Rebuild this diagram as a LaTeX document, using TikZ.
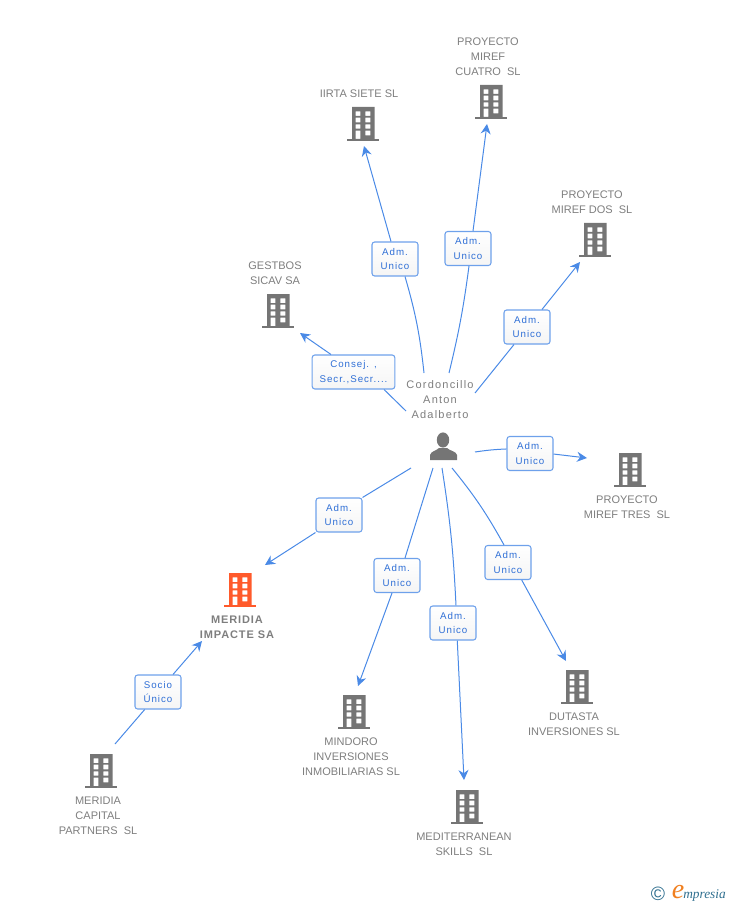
\documentclass[tikz,border=0pt]{standalone}
\usepackage{fontspec}
\setmainfont{Liberation Sans}
\newfontfamily\boxfont[LetterSpace=10]{Liberation Sans}
\newfontfamily\namefont[LetterSpace=11]{Liberation Sans}
\newfontfamily\heavyfont[LetterSpace=8]{Liberation Sans}
\newfontfamily\logofont{Liberation Serif}
\usetikzlibrary{arrows.meta}
\definecolor{linkblue}{HTML}{4A8AE6}
\definecolor{textblue}{HTML}{2F6FD6}
\definecolor{iconaccent}{HTML}{FF5A2B}
\definecolor{icongray}{HTML}{757575}
\definecolor{labelgray}{HTML}{7E7E7E}
\definecolor{logoteal}{HTML}{2F6F8F}
\definecolor{logoorange}{HTML}{F08020}
\tikzset{
  link/.style={linkblue, line width=.75pt},
  tolink/.style={link, -{Stealth[length=7.5pt,width=7.5pt]}},
  role/.style={draw=linkblue!80, line width=.8pt, rounded corners=2pt, top color=white, bottom color=gray!8,
    minimum width=34.5pt, minimum height=25.5pt, inner sep=0pt, align=center, text=textblue,
    font=\boxfont\fontsize{7.3}{11.2}\selectfont, execute at begin node={\rule{0pt}{6.9pt}}},
  entity/.style={align=center, text=labelgray, inner sep=0pt, font=\fontsize{8.25}{11.25}\selectfont},
  bldgbox/.style={minimum width=24pt, minimum height=25.5pt, inner sep=0pt},
}
% one building, centred on its named node
\newcommand{\bldg}[4]{
  \node[bldgbox] (#1) at (#2,#3) {};
  \begin{scope}[shift={(#2,#3)}]
    \fill[#4, even odd rule] (-11,-17) rectangle (11.5,15)
      (-7.3,-12.7) rectangle (-2.7,-8) (2.3,-12.7) rectangle (7.3,-8)
      (-7.3,-6.3) rectangle (-2.7,-1.7) (2.3,-6.3) rectangle (7.3,-1.7)
      (-7.3,.3) rectangle (-2.7,4.7) (2.3,.3) rectangle (7.3,4.7)
      (-7.3,6.7) rectangle (-2.7,15) (2.3,6.7) rectangle (7.3,11.3);
    \fill[#4] (-16,15) rectangle (16,17);
  \end{scope}
}
\begin{document}
\begin{tikzpicture}[x=.75pt,y=-.75pt]
  \useasboundingbox (0,0) rectangle (728,905);

  \bldg{iirta}{363}{124}{icongray}
  \bldg{cuatro}{491}{102}{icongray}
  \bldg{dos}{595}{240}{icongray}
  \bldg{gestbos}{278}{311}{icongray}
  \bldg{tres}{630}{470}{icongray}
  \bldg{impacte}{240}{590}{iconaccent}
  \bldg{mindoro}{354}{712}{icongray}
  \bldg{skills}{467}{807}{icongray}
  \bldg{dutasta}{577}{687}{icongray}
  \bldg{capital}{101}{771}{icongray}

  \node[entity] (iirtaname) at (359,94) {IIRTA SIETE SL};
  \node[entity] (cuatroname) at (488,57) {PROYECTO\\MIREF\\CUATRO~~SL};
  \node[entity] (dosname) at (592,202) {PROYECTO\\MIREF DOS~~SL};
  \node[entity] (gestbosname) at (275,273) {GESTBOS\\SICAV SA};
  \node[entity] (tresname) at (627,507) {PROYECTO\\MIREF TRES~~SL};
  \node[entity, font=\heavyfont\bfseries\fontsize{8.25}{11.25}\selectfont] (impactename) at (237,627) {MERIDIA\\IMPACTE SA};
  \node[entity] (mindoroname) at (351,757) {MINDORO\\INVERSIONES\\INMOBILIARIAS SL};
  \node[entity] (skillsname) at (464,844) {MEDITERRANEAN\\SKILLS~~SL};
  \node[entity] (dutastaname) at (574,724) {DUTASTA\\INVERSIONES SL};
  \node[entity] (capitalname) at (98,816) {MERIDIA\\CAPITAL\\PARTNERS~~SL};
  \node[entity, font=\namefont\fontsize{8.25}{11.25}\selectfont] (personname) at (440,400) {Cordoncillo\\Anton\\Adalberto};

  % person
  \node[minimum width=21pt, minimum height=21pt, inner sep=0pt] (person) at (443,447) {};
  \fill[icongray] (443,440) ellipse (6.2 and 7.6);
  \fill[icongray] (430,460) -- (430,455) .. controls (431,451) and (436,451) .. (439,448)
    -- (447,448) .. controls (450,451) and (456,451) .. (457,455) -- (457,460) -- cycle;

  % free ends of the connectors
  \coordinate (a1) at (424,373);
  \coordinate (a2) at (364,146);
  \coordinate (b1) at (449,373);
  \coordinate (b2) at (487,124);
  \coordinate (c1) at (475,393);
  \coordinate (c2) at (580,262);
  \coordinate (d1) at (406,411);
  \coordinate (d2) at (300,333);
  \coordinate (e1) at (475,452);
  \coordinate (e2) at (587,458);
  \coordinate (f1) at (411,468);
  \coordinate (f2) at (265,565);
  \coordinate (g1) at (433,468);
  \coordinate (g2) at (358,686);
  \coordinate (h1) at (442,468);
  \coordinate (h2) at (464,780);
  \coordinate (i1) at (452,468);
  \coordinate (i2) at (566,661);
  \coordinate (j1) at (115,744);
  \coordinate (j2) at (202,641);

  \node[role] (iirtarole) at (395,259) {Adm.\\Unico};
  \node[role] (cuatrorole) at (468,248.5) {Adm.\\Unico};
  \node[role] (dosrole) at (527,327) {Adm.\\Unico};
  \node[role, minimum width=62pt] (gestbosrole) at (353.5,372) {Consej. ,\\Secr.,Secr....};
  \node[role] (tresrole) at (530,453.5) {Adm.\\Unico};
  \node[role] (impacterole) at (339,515) {Adm.\\Unico};
  \node[role] (mindororole) at (397,575.5) {Adm.\\Unico};
  \node[role] (skillsrole) at (453,623) {Adm.\\Unico};
  \node[role] (dutastarole) at (508,562.5) {Adm.\\Unico};
  \node[role] (capitalrole) at (158,692) {Socio\\Único};

  \draw[link] (a1) to [bend right=5] ([xshift=7.5pt]iirtarole.south);
  \draw[tolink] ([xshift=-3pt]iirtarole.north) -- (a2);
  \draw[link] (b1) to [bend right=3] ([xshift=.75pt]cuatrorole.south);
  \draw[tolink] ([xshift=3.75pt]cuatrorole.north) -- (b2);
  \draw[link] (c1) -- ([xshift=-9.75pt]dosrole.south);
  \draw[tolink] ([xshift=11.25pt]dosrole.north) -- (c2);
  \draw[link] (d1) -- ([xshift=22.9pt]gestbosrole.south);
  \draw[tolink] ([xshift=-16.9pt]gestbosrole.north) -- (d2);
  \draw[link] (e1) to [bend left=3] ([yshift=3.4pt]tresrole.west);
  \draw[tolink] ([yshift=-.4pt]tresrole.east) -- (e2);
  \draw[link] (f1) -- (impacterole.north east);
  \draw[tolink] (impacterole.south west) -- (f2);
  \draw[link] (g1) -- ([xshift=6pt]mindororole.north);
  \draw[tolink] ([xshift=-3.75pt]mindororole.south) -- (g2);
  \draw[link] (h1) to [bend left=3] ([xshift=2.25pt]skillsrole.north);
  \draw[tolink] ([xshift=3.2pt]skillsrole.south) -- (h2);
  \draw[link] (i1) to [bend left=5] ([xshift=-3pt]dutastarole.north);
  \draw[tolink] ([xshift=10.3pt]dutastarole.south) -- (i2);
  \draw[link] (j1) -- ([xshift=-10pt]capitalrole.south);
  \draw[tolink] ([xshift=11.25pt]capitalrole.north) -- (j2);

  % logo
  \node[text=logoteal, inner sep=0pt, font=\fontsize{14.5}{15}\selectfont] (logoc) at (658,894) {©};
  \node[text=logoorange, inner sep=0pt, font=\logofont\itshape\fontsize{21}{21}\selectfont] (logoe) at (678,892) {e};
  \node[text=logoteal, inner sep=0pt, anchor=base west, font=\logofont\itshape\fontsize{10}{10}\selectfont] (logotext) at (683,898) {mpresia};
\end{tikzpicture}
\end{document}
